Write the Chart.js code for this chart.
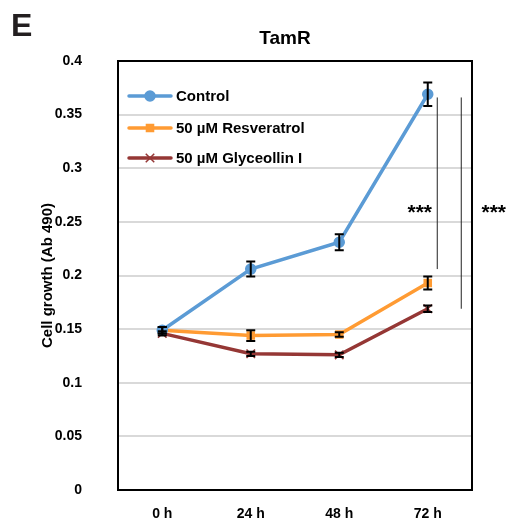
<!DOCTYPE html>
<html lang="en">
<head>
  <meta charset="UTF-8" />
  <title>TamR cell growth</title>
  <script src="https://cdn.jsdelivr.net/npm/chart.js"></script>
  <style>
    html, body {
      margin: 0;
      padding: 0;
      background: #ffffff;
      overflow: hidden;
    }
    canvas { display: block; }
  </style>
</head>
<body>
  <canvas id="growthChart" width="506" height="525"></canvas>

  <script>
    const timepoints = ["0 h", "24 h", "48 h", "72 h"];
    const yTickLabels = ["0", "0.05", "0.1", "0.15", "0.2", "0.25", "0.3", "0.35", "0.4"];

    const controlVals = [0.149, 0.206, 0.231, 0.369];
    const controlErr = [0.003, 0.007, 0.0075, 0.011];
    const resveratrolVals = [0.149, 0.144, 0.145, 0.193];
    const resveratrolErr = [0.003, 0.005, 0.002, 0.006];
    const glyceollinVals = [0.146, 0.127, 0.126, 0.169];
    const glyceollinErr = [0.002, 0.002, 0.002, 0.003];

    // significance brackets at 72 h: [top value, bottom value]
    const sigRanges = [[0.366, 0.206], [0.366, 0.169]];
    const sigLabels = ["***", "***"];
    const sigLabelValue = 0.262;

    const FONT = "Arial, 'Liberation Sans', sans-serif";

    const extras = {
      id: 'extras',
      beforeDatasetsDraw(chart) {
        const { ctx, chartArea: a } = chart;
        ctx.save();
        ctx.strokeStyle = '#000';
        ctx.lineWidth = 2;
        ctx.strokeRect(a.left, a.top, a.right - a.left, a.bottom - a.top);
        ctx.restore();
      },
      afterDatasetsDraw(chart) {
        const { ctx, chartArea: a } = chart;
        const xs = chart.scales.x, ys = chart.scales.y;
        ctx.save();

        // error bars
        const errs = [controlErr, resveratrolErr, glyceollinErr];
        chart.data.datasets.forEach((ds, i) => {
          ds.data.forEach((v, j) => {
            const x = xs.getPixelForValue(j);
            const y1 = ys.getPixelForValue(v + errs[i][j]);
            const y2 = ys.getPixelForValue(v - errs[i][j]);
            ctx.strokeStyle = '#000';
            ctx.lineWidth = 2;
            ctx.beginPath();
            ctx.moveTo(x, y1); ctx.lineTo(x, y2);
            ctx.moveTo(x - 4.5, y1); ctx.lineTo(x + 4.5, y1);
            ctx.moveTo(x - 4.5, y2); ctx.lineTo(x + 4.5, y2);
            ctx.stroke();
          });
        });

        // significance lines
        const x72 = xs.getPixelForValue(3);
        const offs = [9, 33];
        const labelX = [x72 - 8, x72 + 66];
        ctx.strokeStyle = '#222';
        ctx.lineWidth = 1;
        sigRanges.forEach((r, i) => {
          ctx.beginPath();
          ctx.moveTo(x72 + offs[i] + 0.5, ys.getPixelForValue(r[0]));
          ctx.lineTo(x72 + offs[i] + 0.5, ys.getPixelForValue(r[1]));
          ctx.stroke();
        });
        ctx.fillStyle = '#000';
        ctx.font = 'bold 21px ' + FONT;
        ctx.textAlign = 'center';
        ctx.textBaseline = 'middle';
        sigLabels.forEach((t, i) => {
          ctx.fillText(t, labelX[i], ys.getPixelForValue(sigLabelValue) + 4);
        });

        // legend inside plot
        ctx.font = 'bold 15px ' + FONT;
        ctx.textAlign = 'left';
        const rowY = [96, 128, 158];
        chart.data.datasets.forEach((ds, i) => {
          const y = rowY[i];
          ctx.strokeStyle = ds.borderColor;
          ctx.fillStyle = ds.borderColor;
          ctx.lineWidth = 3.5;
          ctx.lineCap = 'round';
          ctx.beginPath();
          ctx.moveTo(129, y); ctx.lineTo(171, y);
          ctx.stroke();
          ctx.lineCap = 'butt';
          ctx.lineWidth = 1.5;
          Chart.helpers.drawPoint(ctx, {
            pointStyle: ds.pointStyle, radius: ds.pointRadius, borderWidth: 1.5, rotation: 0
          }, 150, y);
          ctx.fillStyle = '#000';
          ctx.fillText(ds.label, 176, y + 1);
        });

        // titles
        ctx.fillStyle = '#231f20';
        ctx.font = 'bold 32px ' + FONT;
        ctx.textAlign = 'left';
        ctx.textBaseline = 'alphabetic';
        ctx.fillText('E', 11, 36);
        ctx.fillStyle = '#000';
        ctx.font = 'bold 19px ' + FONT;
        ctx.textAlign = 'center';
        ctx.fillText('TamR', 285, 44);

        ctx.translate(48, (a.top + a.bottom) / 2);
        ctx.rotate(-Math.PI / 2);
        ctx.font = 'bold 15px ' + FONT;
        ctx.textBaseline = 'middle';
        ctx.fillText('Cell growth (Ab 490)', 0, 0);
        ctx.restore();
      }
    };

    function styleFor(ds) {
      ds.pointBackgroundColor = ds.borderColor;
      ds.pointBorderColor = ds.borderColor;
      ds.borderWidth = 3.5;
      ds.tension = 0;
      ds.pointBorderWidth = 1.5;
      return ds;
    }

    const ctx = document.getElementById('growthChart').getContext('2d');
    const chart = new Chart(ctx, {
      type: 'line',
      data: {
        labels: timepoints,
        datasets: [
          styleFor({ label: 'Control', data: controlVals, borderColor: '#5b9bd5', pointStyle: 'circle', pointRadius: 5 }),
          styleFor({ label: '50 µM Resveratrol', data: resveratrolVals, borderColor: '#ff9b33', pointStyle: 'rect', pointRadius: 5 }),
          styleFor({ label: '50 µM Glyceollin I', data: glyceollinVals, borderColor: '#953735', pointStyle: 'crossRot', pointRadius: 6 })
        ]
      },
      options: {
        responsive: false,
        animation: false,
        layout: { padding: { top: 61, right: 34, bottom: 0, left: 0 } },
        plugins: {
          legend: { display: false },
          tooltip: { enabled: false }
        },
        scales: {
          x: {
            offset: true,
            grid: { display: false, drawTicks: false },
            border: { display: false },
            ticks: {
              color: '#000',
              padding: 16,
              font: { family: FONT, size: 14, weight: 'bold' }
            },
            afterFit(scale) { scale.height = 35; }
          },
          y: {
            min: 0,
            max: 0.4,
            grid: { color: '#d9d9d9', lineWidth: 2, drawTicks: false },
            border: { display: false },
            ticks: {
              stepSize: 0.05,
              color: '#000',
              padding: 36,
              font: { family: FONT, size: 14, weight: 'bold' },
              callback: (v, i) => yTickLabels[i]
            },
            afterFit(scale) {
              scale.width = 118;
              // the big label padding should not push the plot area up
              scale.paddingTop = 0;
              scale.paddingBottom = 0;
            }
          }
        }
      },
      plugins: [extras]
    });
  </script>
</body>
</html>
